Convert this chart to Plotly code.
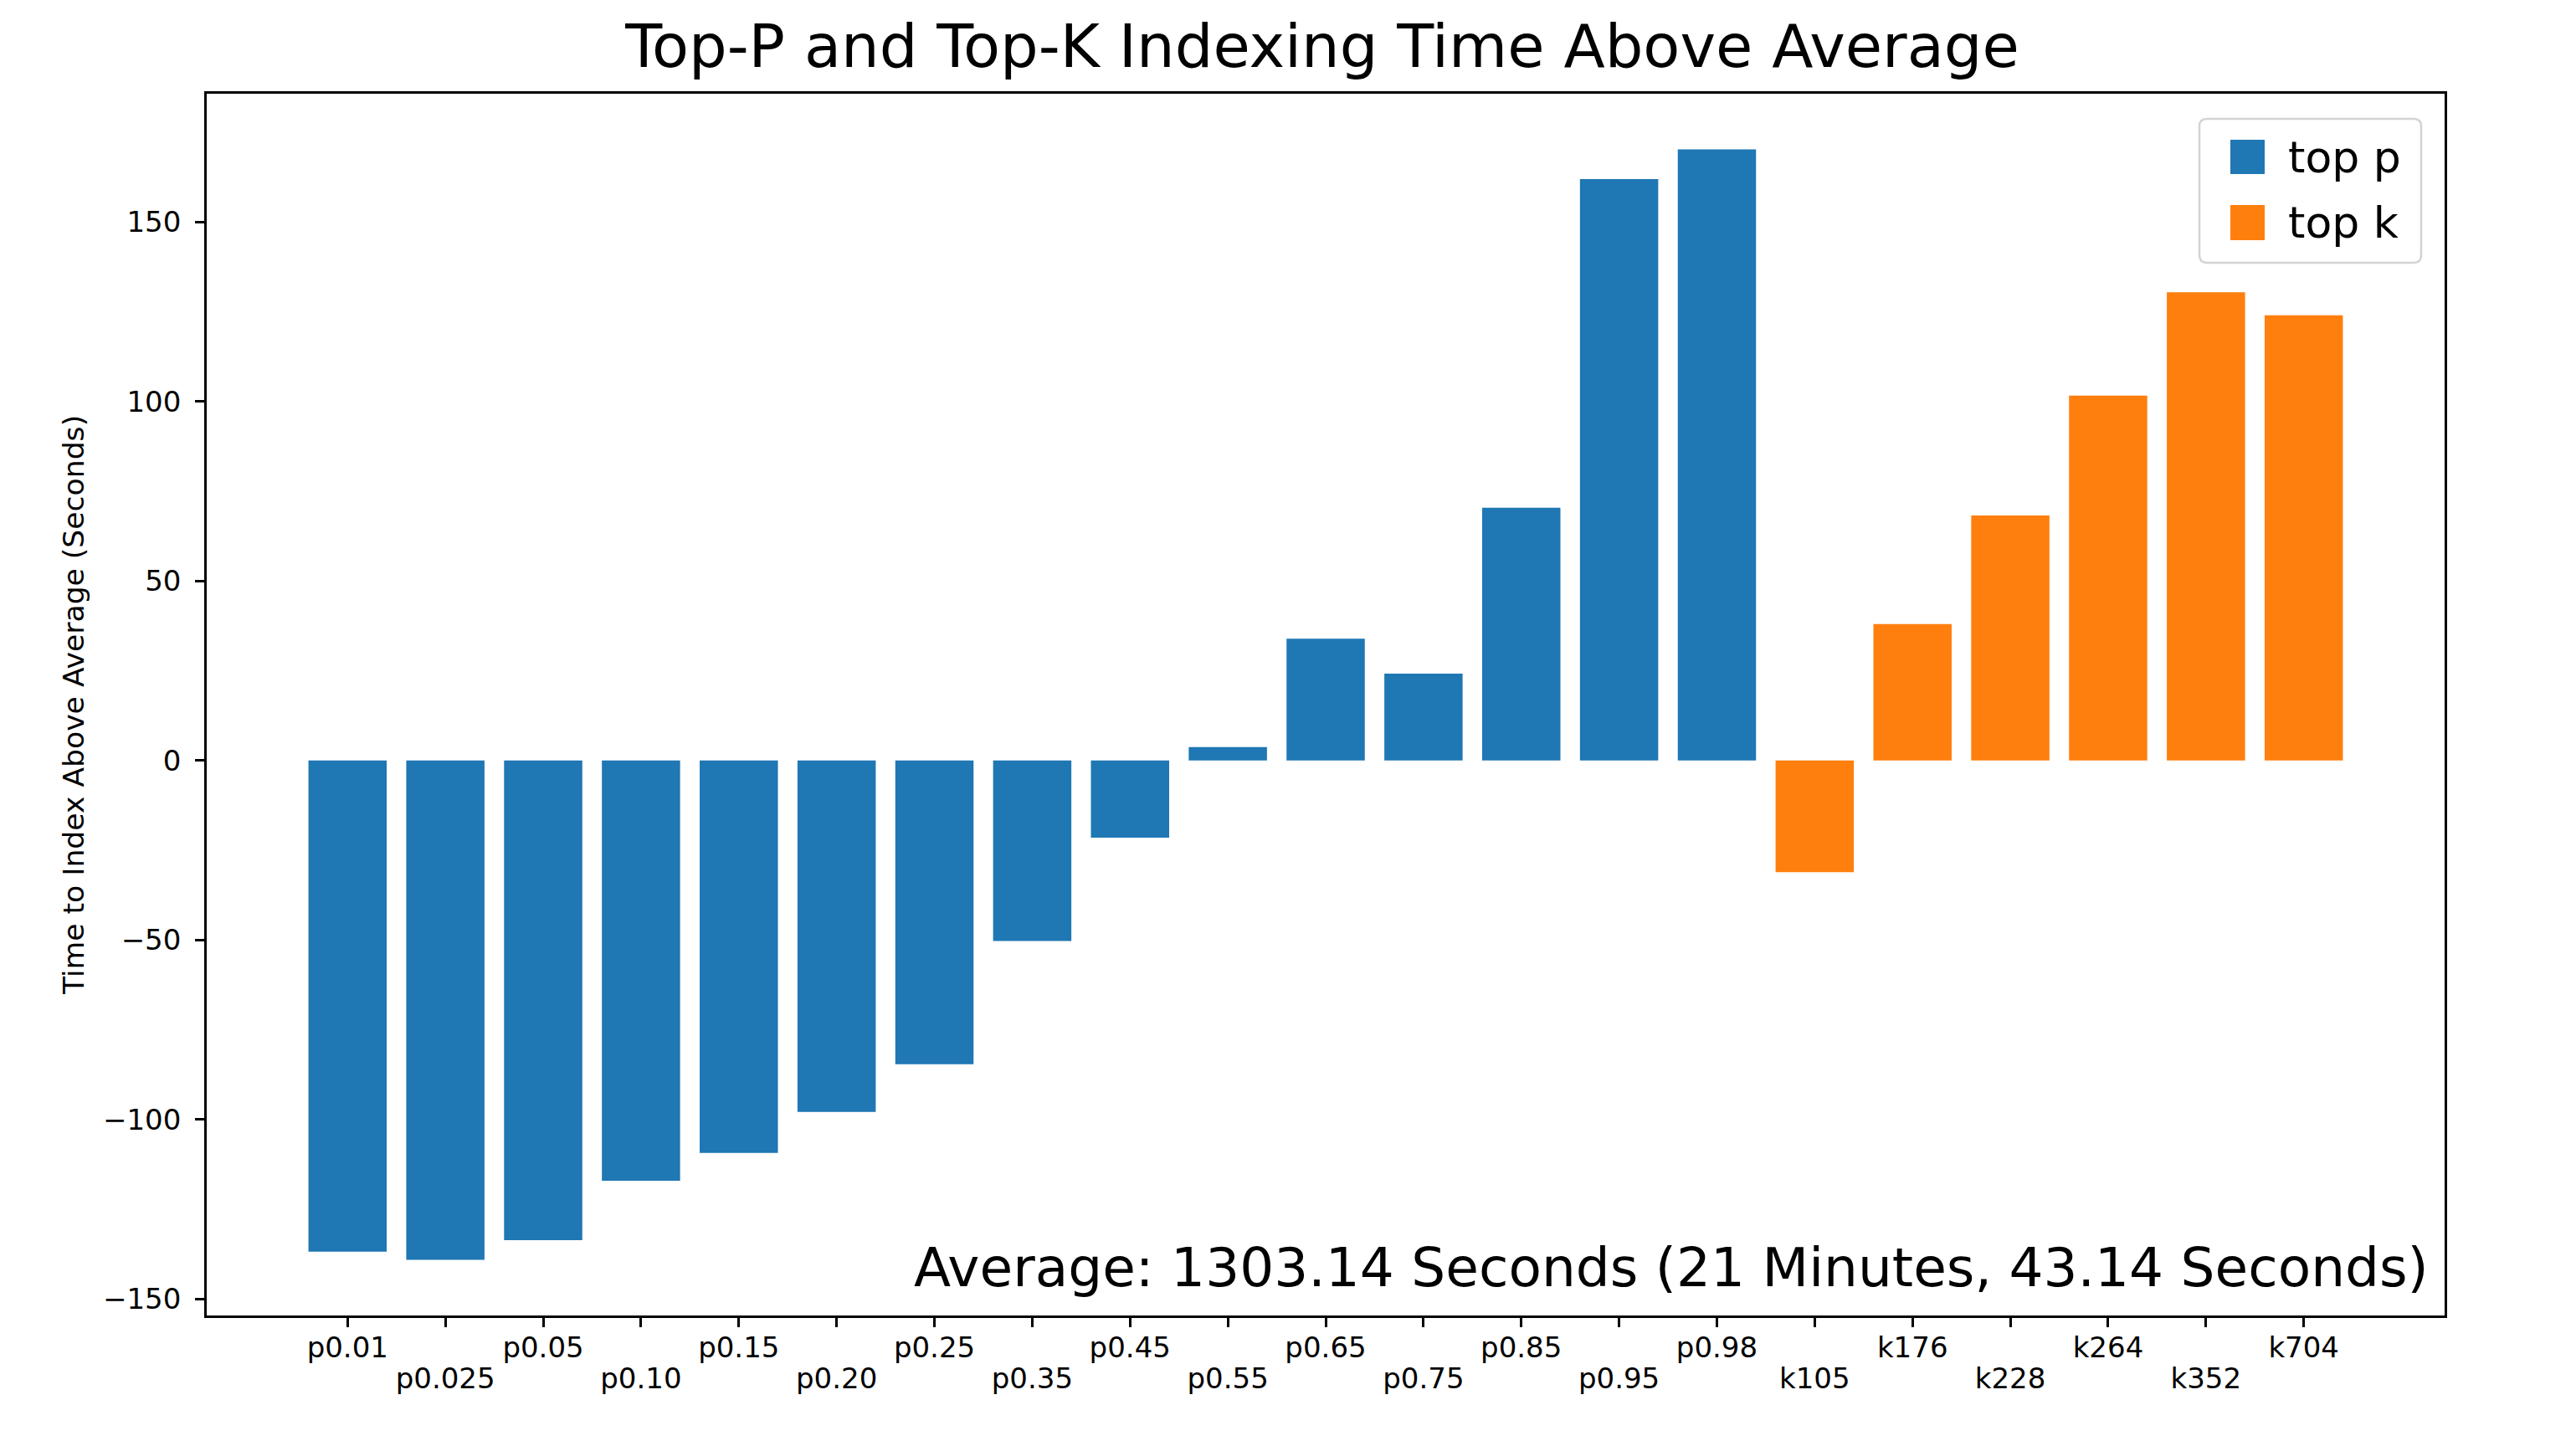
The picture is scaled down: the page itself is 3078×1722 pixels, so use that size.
import plotly.graph_objects as go

# ---- data ----
p_labels = ["p0.01", "p0.025", "p0.05", "p0.10", "p0.15", "p0.20", "p0.25", "p0.35",
            "p0.45", "p0.55", "p0.65", "p0.75", "p0.85", "p0.95", "p0.98"]
p_values = [-136.8, -139.1, -133.6, -117.1, -109.3, -97.9, -84.6, -50.3,
            -21.5, 3.7, 33.9, 24.2, 70.4, 161.9, 170.2]
k_labels = ["k105", "k176", "k228", "k264", "k352", "k704"]
k_values = [-31.1, 38.0, 68.2, 101.6, 130.4, 124.0]
y_ticks = [-150, -100, -50, 0, 50, 100, 150]

title_text = "Top-P and Top-K Indexing Time Above Average"
avg_text = "Average: 1303.14 Seconds (21 Minutes, 43.14 Seconds)"
y_title = "Time to Index Above Average (Seconds)"

BLUE = "#1f77b4"
ORANGE = "#ff7f0e"
FONT = "DejaVu Sans"

all_labels = p_labels + k_labels
n = len(all_labels)
p_x = list(range(len(p_labels)))
k_x = list(range(len(p_labels), n))
even_pos = [i for i in range(n) if i % 2 == 0]
odd_pos = [i for i in range(n) if i % 2 == 1]
x_range = [-1.44, n - 1 + 1.44]

W, H = 3078, 1722
L, R, T, B = 239, 165, 104, 158
pw = W - L - R
ph = H - T - B

fig = go.Figure()
fig.add_trace(go.Bar(x=p_x, y=p_values, name="top p", marker=dict(color=BLUE, line=dict(width=0)),
                     width=0.8, showlegend=False))
fig.add_trace(go.Bar(x=k_x, y=k_values, name="top k", marker=dict(color=ORANGE, line=dict(width=0)),
                     width=0.8, showlegend=False))

fig.update_layout(
    width=W, height=H,
    margin=dict(l=L, r=R, t=T, b=B),
    paper_bgcolor="white", plot_bgcolor="white",
    font=dict(family=FONT, color="black", size=34),
    title=dict(text=title_text, x=1572 / W, xanchor="center",
               y=1 - 47 / H, yanchor="middle", font=dict(size=72, family=FONT, color="black")),
    bargap=0.2,
    xaxis=dict(
        range=x_range,
        tickmode="array", tickvals=list(range(n)),
        ticktext=[lab if i % 2 == 0 else "" for i, lab in enumerate(all_labels)],
        ticks="outside", ticklen=11, tickwidth=2.6, tickcolor="black",
        showline=True, linewidth=2.6, linecolor="black", mirror=True,
        showgrid=False, zeroline=False, tickangle=0,
        tickfont=dict(size=34, family=FONT, color="black"),
        ticklabelstandoff=-5,
    ),
    xaxis2=dict(
        range=x_range, overlaying="x", anchor="y", side="bottom",
        tickmode="array", tickvals=odd_pos,
        ticktext=[all_labels[i] for i in odd_pos],
        ticks="outside", ticklen=11, tickwidth=2.6, tickcolor="black",
        showline=False, showgrid=False, zeroline=False, tickangle=0,
        tickfont=dict(size=34, family=FONT, color="black"),
        ticklabelstandoff=34,
    ),
)

# dummy invisible trace to activate xaxis2 for its tick labels
fig.add_trace(go.Scatter(x=[None], y=[None], xaxis="x2", yaxis="y", mode="markers",
                         showlegend=False, hoverinfo="skip"))

fig.update_yaxes(
    range=[-154.6, 185.7],
    tickmode="array", tickvals=y_ticks,
    ticktext=[("\u2212" + str(abs(v))) if v < 0 else str(v) for v in y_ticks],
    ticks="outside", ticklen=11, tickwidth=2.6, tickcolor="black",
    showline=True, linewidth=2.6, linecolor="black", mirror=True,
    showgrid=False, zeroline=False,
    tickfont=dict(size=34, family=FONT, color="black"),
    ticklabelstandoff=10,
    title=dict(text=y_title, font=dict(size=34.6, family=FONT, color="black"), standoff=12),
)


def px_x(v):
    return (v - L) / pw


def px_y(v):
    return (H - B - v) / ph


# average annotation
fig.add_annotation(
    text=avg_text, xref="paper", yref="paper",
    x=px_x(2896), y=px_y(1506), xanchor="right", yanchor="middle",
    showarrow=False, font=dict(size=64.5, family=FONT, color="black"),
)

# custom legend (matplotlib-style large swatches, rounded frame)
bx0, bx1, by0, by1 = 2620, 2885, 134, 306
r = 9


def P(x, y):
    return f"{px_x(x):.6f},{px_y(y):.6f}"


path = (f"M {P(bx0 + r, by0)} L {P(bx1 - r, by0)} Q {P(bx1, by0)} {P(bx1, by0 + r)} "
        f"L {P(bx1, by1 - r)} Q {P(bx1, by1)} {P(bx1 - r, by1)} "
        f"L {P(bx0 + r, by1)} Q {P(bx0, by1)} {P(bx0, by1 - r)} "
        f"L {P(bx0, by0 + r)} Q {P(bx0, by0)} {P(bx0 + r, by0)} Z")
fig.add_shape(type="path", xref="paper", yref="paper", path=path,
              line=dict(color="#d3d3d3", width=2.5), fillcolor="rgba(255,255,255,0.8)", layer="above")

legend_items = [("top p", BLUE, 159, 200), ("top k", ORANGE, 237, 279)]
for name, col, y0, y1 in legend_items:
    fig.add_shape(type="rect", xref="paper", yref="paper",
                  x0=px_x(2657), x1=px_x(2698), y0=px_y(y1), y1=px_y(y0),
                  line=dict(width=0), fillcolor=col, layer="above")
    fig.add_annotation(text=name, xref="paper", yref="paper",
                       x=px_x(2724), y=px_y((y0 + y1) / 2), xanchor="left", yanchor="middle",
                       showarrow=False, font=dict(size=52, family=FONT, color="black"))

fig.write_html("out.html")
